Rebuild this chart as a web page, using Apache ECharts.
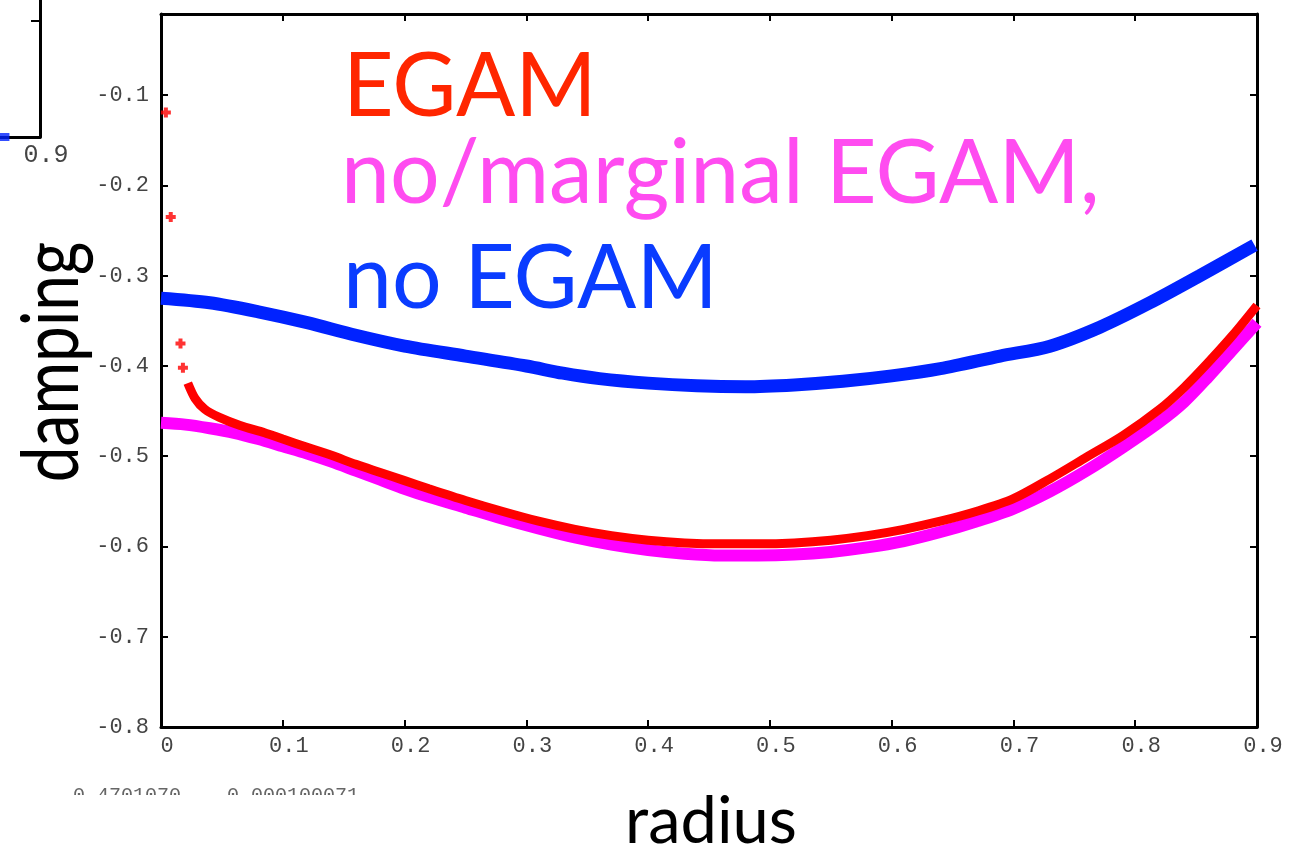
<!DOCTYPE html>
<html>
<head>
<meta charset="utf-8">
<script src="https://cdn.jsdelivr.net/npm/echarts@6/dist/echarts.min.js"></script>
<style>
  html, body { margin: 0; padding: 0; background: #ffffff; }
  #chart { width: 1298px; height: 860px; }
</style>
</head>
<body>
<div id="chart"></div>
<script>
// Damping rate profiles versus radius for three cases.
const blueR = [0.000, 0.040, 0.080, 0.120, 0.160, 0.200, 0.250, 0.300, 0.330, 0.360, 0.400, 0.440, 0.480, 0.520, 0.560, 0.600, 0.640, 0.689, 0.730, 0.771, 0.812, 0.853, 0.898];
const blueV = [-0.325, -0.330, -0.340, -0.352, -0.366, -0.378, -0.389, -0.400, -0.408, -0.414, -0.419, -0.422, -0.423, -0.421, -0.417, -0.411, -0.403, -0.389, -0.378, -0.357, -0.330, -0.300, -0.266];

const magentaR = [0.000, 0.020, 0.040, 0.060, 0.080, 0.100, 0.120, 0.140, 0.160, 0.180, 0.200, 0.220, 0.250, 0.280, 0.310, 0.340, 0.370, 0.400, 0.430, 0.460, 0.490, 0.520, 0.550, 0.580, 0.610, 0.640, 0.670, 0.700, 0.730, 0.760, 0.790, 0.820, 0.840, 0.860, 0.880, 0.900];
const magentaV = [-0.463, -0.465, -0.469, -0.474, -0.481, -0.489, -0.497, -0.506, -0.516, -0.526, -0.536, -0.545, -0.557, -0.569, -0.580, -0.590, -0.598, -0.604, -0.608, -0.610, -0.610, -0.609, -0.606, -0.601, -0.594, -0.584, -0.572, -0.558, -0.539, -0.516, -0.490, -0.462, -0.440, -0.412, -0.382, -0.352];

// EGAM case: a few isolated points near the axis, then a continuous band
const redSparseR = [0.004, 0.008, 0.016, 0.018];
const redSparseV = [-0.119, -0.235, -0.375, -0.402];
const redR = [0.022, 0.028, 0.036, 0.048, 0.065, 0.085, 0.100, 0.120, 0.140, 0.160, 0.180, 0.200, 0.220, 0.250, 0.280, 0.310, 0.340, 0.370, 0.400, 0.430, 0.460, 0.490, 0.520, 0.550, 0.580, 0.610, 0.640, 0.670, 0.700, 0.730, 0.760, 0.790, 0.820, 0.840, 0.860, 0.880, 0.900];
const redV = [-0.419, -0.436, -0.448, -0.457, -0.466, -0.474, -0.481, -0.490, -0.499, -0.509, -0.518, -0.527, -0.536, -0.549, -0.561, -0.572, -0.581, -0.588, -0.593, -0.596, -0.597, -0.597, -0.596, -0.593, -0.588, -0.581, -0.572, -0.561, -0.547, -0.525, -0.501, -0.477, -0.448, -0.424, -0.396, -0.366, -0.333];

// Neighbouring panel, only its lower-right corner is in view
const insetR = [0.87];
const insetV = [-0.8];

const xTicks = ['0', '0.1', '0.2', '0.3', '0.4', '0.5', '0.6', '0.7', '0.8', '0.9'];

const zip = (a, b) => a.map((v, i) => [v, b[i]]);

const tickFont = { fontFamily: 'Liberation Mono', fontSize: 22, color: '#444' };
const plus = 'path://M3,0h4v3h3v4h-3v3h-4v-3h-3v-4h3z';
const frameLine = { onZero: false, lineStyle: { color: '#000', width: 3 } };
const inTick = { inside: true, length: 7, lineStyle: { color: '#000', width: 2 } };

const chart = echarts.init(document.getElementById('chart'), null, { renderer: 'canvas' });

const option = {
  animation: false,
  backgroundColor: '#ffffff',
  grid: [
    { left: 161, top: 14, width: 1096, height: 713, outerBoundsMode: 'none', containLabel: false },
    { left: -1057, top: -791, width: 1097, height: 928, outerBoundsMode: 'none', containLabel: false }
  ],
  xAxis: [
    {
      gridIndex: 0, type: 'value', min: 0, max: 0.9, interval: 0.1, position: 'bottom',
      axisLine: frameLine, axisTick: inTick, splitLine: { show: false },
      axisLabel: Object.assign({}, tickFont, {
        margin: 8, padding: [0, 0, 0, 12],
        formatter: v => xTicks[Math.round(v * 10)] || ''
      })
    },
    {
      gridIndex: 0, type: 'value', min: 0, max: 0.9, interval: 0.1, position: 'top',
      axisLine: frameLine, axisTick: inTick,
      axisLabel: { show: false }, splitLine: { show: false }
    },
    {
      gridIndex: 1, type: 'value', min: 0, max: 0.9, interval: 0.1, position: 'bottom',
      axisLine: frameLine, axisTick: inTick, splitLine: { show: false },
      axisLabel: {
        fontFamily: 'Liberation Mono', fontSize: 25, color: '#444',
        margin: 6, padding: [0, 0, 0, 12], showMinLabel: false,
        formatter: v => (Math.abs(v - 0.9) < 1e-6 ? '0.9' : '')
      }
    }
  ],
  yAxis: [
    {
      gridIndex: 0, type: 'value', min: -0.8, max: -0.01, interval: 0.1, position: 'left',
      axisLine: frameLine, axisTick: inTick, splitLine: { show: false },
      axisLabel: Object.assign({}, tickFont, {
        margin: 12, showMaxLabel: false,
        formatter: v => (v < -0.05 ? v.toFixed(1) : '')
      })
    },
    {
      gridIndex: 0, type: 'value', min: -0.8, max: -0.01, interval: 0.1, position: 'right',
      axisLine: frameLine, axisTick: inTick,
      axisLabel: { show: false }, splitLine: { show: false }
    },
    {
      gridIndex: 1, type: 'value', min: -0.8, max: 0, interval: 0.1, position: 'right',
      axisLine: frameLine,
      axisTick: { inside: true, length: 9, lineStyle: { color: '#000', width: 2 } },
      axisLabel: { show: false }, splitLine: { show: false }
    }
  ],
  series: [
    {
      name: 'no/marginal EGAM', type: 'line', xAxisIndex: 0, yAxisIndex: 0,
      data: zip(magentaR, magentaV), showSymbol: false, smooth: 0.3,
      lineStyle: { color: '#ff00ff', width: 12 }, z: 2
    },
    {
      name: 'EGAM', type: 'line', xAxisIndex: 0, yAxisIndex: 0,
      data: zip(redR, redV), showSymbol: false, smooth: 0.3,
      lineStyle: { color: '#ff0000', width: 9 }, z: 3
    },
    {
      name: 'EGAM start', type: 'scatter', xAxisIndex: 0, yAxisIndex: 0,
      data: zip(redSparseR, redSparseV), symbol: plus, symbolSize: 10,
      itemStyle: { color: '#ff0000' }, z: 3
    },
    {
      name: 'no EGAM', type: 'line', xAxisIndex: 0, yAxisIndex: 0,
      data: zip(blueR, blueV), showSymbol: false, smooth: 0.3,
      lineStyle: { color: '#0022ff', width: 13 }, z: 4
    },
    {
      name: 'inset', type: 'scatter', xAxisIndex: 2, yAxisIndex: 2,
      data: zip(insetR, insetV), symbol: 'rect', symbolSize: [12, 8],
      itemStyle: { color: '#0022ff' }, clip: false
    }
  ],
  graphic: [
    { type: 'text', x: 343, y: 42, scaleX: 0.975, z: 10,
      style: { text: 'EGAM', fill: '#ff2600', font: '90px Lato', verticalAlign: 'top' } },
    { type: 'text', x: 341, y: 129, scaleX: 0.975, z: 10,
      style: { text: 'no/marginal EGAM,', fill: '#ff4cf0', font: '90px Lato', verticalAlign: 'top' } },
    { type: 'text', x: 343, y: 234, scaleX: 0.975, z: 10,
      style: { text: 'no EGAM', fill: '#0a3cff', font: '90px Lato', verticalAlign: 'top' } },
    { type: 'text', x: 52, y: 362, rotation: Math.PI / 2, scaleX: 0.8, z: 10,
      style: { text: 'damping', fill: '#000', font: '80px Lato', align: 'center', verticalAlign: 'middle' } },
    { type: 'text', x: 711, y: 822, z: 10,
      style: { text: 'radius', fill: '#000', font: '65px Lato', align: 'center', verticalAlign: 'middle' } },
    // readout line under the axis, cut off by the panel edge
    { type: 'text', x: 73, y: 786, z: 5,
      style: { text: '0.4701070', fill: '#666', font: '20px "Liberation Mono"' } },
    { type: 'text', x: 227, y: 786, z: 5,
      style: { text: '0.000100071', fill: '#666', font: '20px "Liberation Mono"' } },
    { type: 'rect', shape: { x: 60, y: 795, width: 330, height: 40 }, z: 6,
      style: { fill: '#ffffff' } }
  ]
};

chart.setOption(option);
</script>
</body>
</html>
